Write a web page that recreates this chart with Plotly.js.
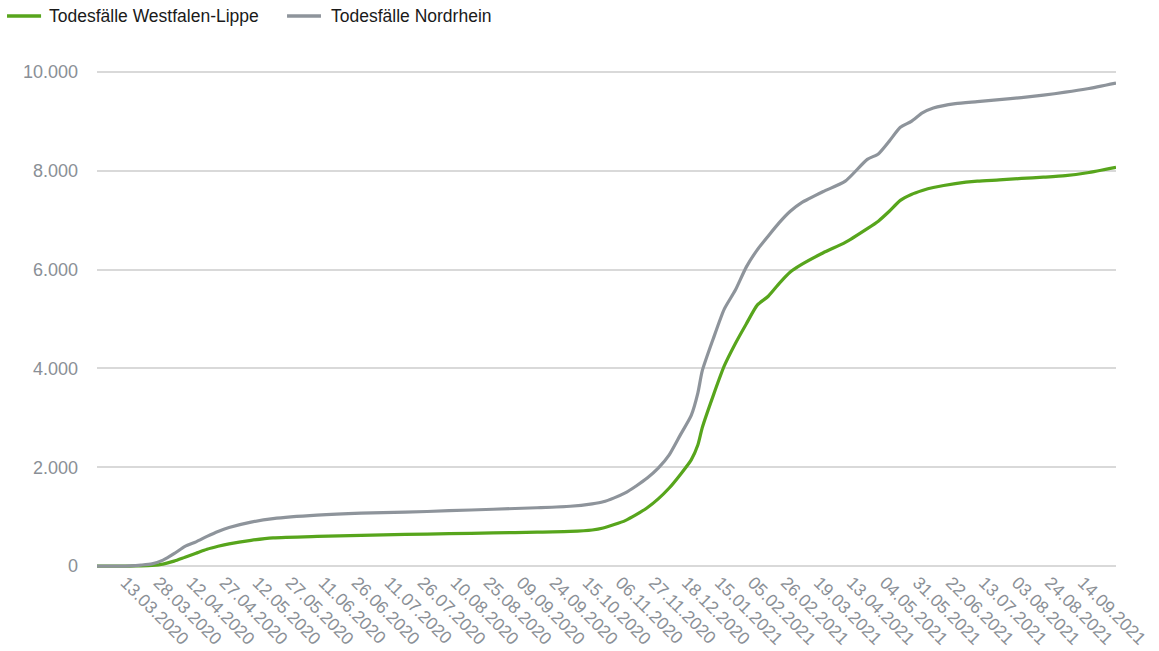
<!DOCTYPE html>
<html>
<head>
<meta charset="utf-8">
<script src="https://cdn.plot.ly/plotly-3.0.1.min.js"></script>
<style>html,body{margin:0;padding:0;background:#fff;}#chart{width:1159px;height:651px;}</style>
</head>
<body>
<div id="chart"></div>
<script>
const pointIndex = [0, 10, 15, 20, 25, 30, 35, 40, 45, 50, 55, 60, 70, 80, 100, 120, 140, 160, 180, 200, 215, 225, 230, 235, 240, 245, 250, 255, 260, 265, 270, 273, 275, 280, 285, 290, 295, 300, 305, 310, 315, 320, 330, 340, 350, 355, 360, 365, 370, 375, 380, 390, 400, 410, 420, 430, 440, 450, 463];
const westfalenLippe = [0, 0, 0, 5, 15, 40, 100, 180, 260, 340, 400, 450, 520, 570, 600, 620, 640, 655, 670, 685, 700, 730, 770, 840, 920, 1040, 1180, 1360, 1580, 1850, 2150, 2450, 2800, 3450, 4050, 4500, 4900, 5280, 5460, 5720, 5950, 6100, 6340, 6550, 6830, 6980, 7180, 7400, 7520, 7600, 7660, 7740, 7790, 7815, 7845, 7870, 7900, 7960, 8070];
const nordrhein = [0, 0, 5, 20, 45, 120, 250, 400, 490, 600, 700, 780, 890, 960, 1030, 1070, 1090, 1120, 1150, 1180, 1210, 1260, 1300, 1380, 1480, 1620, 1780, 1980, 2250, 2650, 3050, 3500, 3950, 4600, 5200, 5580, 6050, 6400, 6680, 6950, 7180, 7350, 7580, 7790, 8230, 8340, 8600, 8880, 9000, 9170, 9270, 9360, 9400, 9440, 9480, 9530, 9590, 9660, 9775];
// Tick labels (every 15th data point, starting at point 13)
const tickLabels = ["13.03.2020", "28.03.2020", "12.04.2020", "27.04.2020", "12.05.2020", "27.05.2020", "11.06.2020", "26.06.2020", "11.07.2020", "26.07.2020", "10.08.2020", "25.08.2020", "09.09.2020", "24.09.2020", "15.10.2020", "06.11.2020", "27.11.2020", "18.12.2020", "15.01.2021", "05.02.2021", "26.02.2021", "19.03.2021", "13.04.2021", "04.05.2021", "31.05.2021", "22.06.2021", "13.07.2021", "03.08.2021", "24.08.2021", "14.09.2021"];
const firstTickIndex = 13;
const tickStep = 15;
const seriesNames = ["Todesfälle Westfalen-Lippe", "Todesfälle Nordrhein"];
const seriesColors = ['#57a51c', '#8e949b'];

const tickVals = tickLabels.map((_, k) => firstTickIndex + k * tickStep);

const traces = [
  {x: pointIndex, y: westfalenLippe, name: seriesNames[0], type: 'scatter', mode: 'lines',
   line: {color: seriesColors[0], width: 3.2, shape: 'spline', smoothing: 0.6}},
  {x: pointIndex, y: nordrhein, name: seriesNames[1], type: 'scatter', mode: 'lines',
   line: {color: seriesColors[1], width: 3.2, shape: 'spline', smoothing: 0.6}}
];

// Legend drawn as shapes + annotations (paper coordinates) to match the reference spacing
const legendY = 1.1012;
const legendItems = [
  {lineX0: -0.0883, lineX1: -0.0549, textX: -0.0481},
  {lineX0: 0.1865, lineX1: 0.2198, textX: 0.2287}
];
const shapes = legendItems.map((it, i) => ({
  type: 'line', xref: 'paper', yref: 'paper', x0: it.lineX0, x1: it.lineX1, y0: legendY, y1: legendY,
  line: {color: seriesColors[i], width: 3.5}
}));
const annotations = legendItems.map((it, i) => ({
  xref: 'paper', yref: 'paper', x: it.textX, y: legendY, xanchor: 'left', yanchor: 'middle',
  text: seriesNames[i], showarrow: false, borderpad: 0,
  font: {size: 17.5, color: '#1a1a1a', family: '"Liberation Sans", Arial, sans-serif'}
}));

const layout = {
  width: 1159, height: 651,
  margin: {l: 97, r: 43, t: 67, b: 80},
  paper_bgcolor: '#ffffff', plot_bgcolor: '#ffffff',
  separators: ',.',
  font: {family: '"Liberation Sans", Arial, sans-serif', size: 18, color: '#8a8f96'},
  showlegend: false,
  shapes: shapes,
  annotations: annotations,
  xaxis: {range: [0, 463], showgrid: false, zeroline: false, showline: false,
          tickmode: 'array', tickvals: tickVals, ticktext: tickLabels, tickangle: 45,
          ticks: '', ticklabelstandoff: -3, tickfont: {size: 17.5, color: '#8a8f96'}, fixedrange: true},
  yaxis: {range: [-100, 10100], tickmode: 'array', tickvals: [0, 2000, 4000, 6000, 8000, 10000],
          tickformat: ',d', showgrid: true, gridcolor: '#d9d9d9', gridwidth: 2,
          zeroline: false, showline: false, ticks: '', ticklabelstandoff: 18,
          tickfont: {size: 18, color: '#8a8f96'}, fixedrange: true}
};

Plotly.newPlot('chart', traces, layout, {displayModeBar: false, staticPlot: true});
</script>
</body>
</html>
